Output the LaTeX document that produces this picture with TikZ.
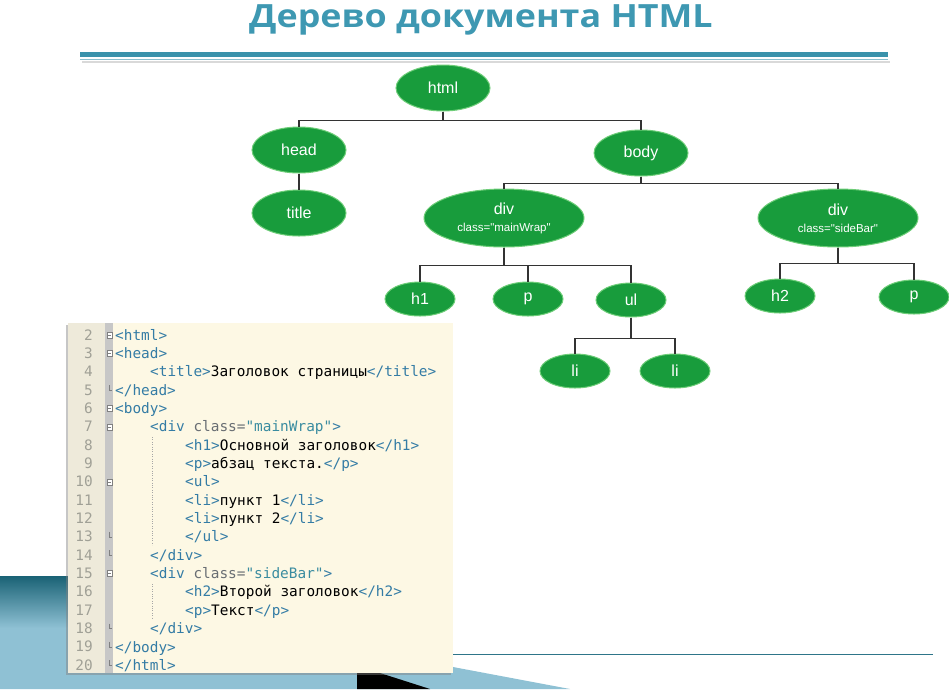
\documentclass[tikz,border=0pt]{standalone}
\usepackage{fontspec}
\setmainfont{Liberation Sans}[Ligatures=TeXOff]
\newfontfamily\codefont{DejaVu Sans Mono}[Ligatures=TeXOff]
\newfontfamily\titlefont{Open Sans}
\usetikzlibrary{shapes.geometric,shadows}
\definecolor{leafgreen}{RGB}{24,156,60}
\definecolor{leafrim}{RGB}{110,205,120}
\definecolor{rulec}{RGB}{58,146,171}
\definecolor{titlec}{RGB}{62,152,178}
\definecolor{paper}{RGB}{253,248,228}
\definecolor{gutter}{RGB}{238,234,218}
\definecolor{tagc}{RGB}{52,124,165}
\definecolor{attc}{RGB}{105,110,115}
\definecolor{valc}{RGB}{58,140,160}
\definecolor{numc}{RGB}{160,160,150}
\definecolor{deep}{RGB}{26,98,117}
\definecolor{sky}{RGB}{143,193,212}
\newcommand{\tg}[1]{\textcolor{tagc}{#1}}
\newcommand{\att}[1]{\textcolor{attc}{#1}}
\newcommand{\val}[1]{\textcolor{valc}{#1}}

\begin{document}
\begin{tikzpicture}[x=1pt, y=-1pt,
    leaf/.style={ellipse, fill=leafgreen, draw=leafrim, line width=1pt, inner sep=0pt,
      text=white, font=\fontsize{16}{16}\selectfont},
    big/.style={leaf, minimum width=94pt, minimum height=46pt},
    wide/.style={leaf, minimum width=160pt, minimum height=58pt, align=center},
    small/.style={leaf, minimum width=70pt, minimum height=34pt},
    link/.style={line width=1.3pt, black!80},
    codeline/.style={anchor=base west, inner sep=0pt, font=\codefont\fontsize{14.4}{14.4}\selectfont},
    lnum/.style={anchor=base east, inner sep=0pt, text=numc, font=\codefont\fontsize{14.4}{14.4}\selectfont}]
  \useasboundingbox (0,0) rectangle (949,689);

  % heading
  \node[anchor=base, inner sep=0pt, text=titlec, font=\titlefont\bfseries\fontsize{32}{32}\selectfont] (heading) at (481,27)
    {\scalebox{1.12}[1]{Дерево документа HTML}};
  \draw[black!15, line width=2pt] (82,62) -- (890,62);
  \draw[rulec, line width=5pt] (80,54) -- (888,54);
  \draw[rulec!60, line width=1.2pt] (80,59.5) -- (888,59.5);

  % corner
  \fill[sky] (0,576) -- (440,576) -- (453,667) -- (570,689) -- (0,689) -- cycle;
  \shade[top color=deep, bottom color=sky] (0,576) rectangle (440,628);
  \fill[black] (357,673) -- (380,673) -- (430,689) -- (357,689) -- cycle;
  \draw[rulec!80!black, line width=.8pt] (453,654) -- (933,654);

  % tree
  \node[big] (html) at (443,88) {html};
  \node[big] (head) at (299,150) {head};
  \node[big] (title) at (299,213) {title};
  \node[big] (body) at (641,153) {body};
  \node[wide] (main) at (504,218) {div\\[1pt]\fontsize{11.5}{13}\selectfont class="mainWrap"};
  \node[wide] (side) at (838,218) {div\\[1pt]\fontsize{11.5}{13}\selectfont class="sideBar"};
  \node[small] (h1) at (420,299) {h1};
  \node[small] (p1) at (528,299) {p};
  \node[small] (ul) at (631,300) {ul};
  \node[small] (li1) at (575,371) {li};
  \node[small] (li2) at (675,371) {li};
  \node[small] (h2) at (780,296) {h2};
  \node[small] (p2) at (914,297) {p};

  % lines
  \foreach \k in {head,body} \draw[link] (html.south) -- ++(0,9) -| (\k.north);
  \draw[link] (head) -- (title);
  \foreach \k in {main,side} \draw[link] (body.south) -- ++(0,7) -| (\k.north);
  \foreach \k in {h1,p1,ul} \draw[link] (main.south) -- ++(0,18) -| (\k.north);
  \foreach \k in {li1,li2} \draw[link] (ul.south) -- ++(0,21) -| (\k.north);
  \foreach \k in {h2,p2} \draw[link] (side.south) -- ++(0,16) -| (\k.north);

  % code box
  \fill[paper, drop shadow={shadow xshift=-2pt, shadow yshift=-2pt, opacity=.45}] (68,323) rectangle (453,673);
  \fill[gutter] (68,323) rectangle (105,673);
  \fill[black!22] (105,323) rectangle (113,673);
  \foreach \n [evaluate=\n as \y using 335+18.35*(\n-2)] in {2,3,6,7,10,15} {
    \draw[gray, fill=white, line width=.5pt] (107,\y-3) rectangle (112,\y+3);
    \draw[gray, line width=.5pt] (108,\y) -- (111,\y);
  }
  \foreach \n [evaluate=\n as \y using 335+18.35*(\n-2)] in {5,13,14,18,19,20}
    \draw[gray, line width=.5pt] (109.5,\y-5) -- (109.5,\y) -- (112,\y);
  \draw[black!35, dotted] (152,437) -- (152,545);
  \draw[black!35, dotted] (152,584) -- (152,619);
  \foreach \n [evaluate=\n as \y using 340+18.35*(\n-2)] in {2,...,20}
    \node[lnum] (n\n) at (93,\y) {\n};

  \node[codeline] (c2) at (115,340.0) {\tg{<html>}};
  \node[codeline] (c3) at (115,358.4) {\tg{<head>}};
  \node[codeline] (c4) at (150,376.7) {\tg{<title>}Заголовок страницы\tg{</title>}};
  \node[codeline] (c5) at (115,395.1) {\tg{</head>}};
  \node[codeline] (c6) at (115,413.4) {\tg{<body>}};
  \node[codeline] (c7) at (150,431.8) {\tg{<div} \att{class=}\val{"mainWrap"}\tg{>}};
  \node[codeline] (c8) at (185,450.1) {\tg{<h1>}Основной заголовок\tg{</h1>}};
  \node[codeline] (c9) at (185,468.5) {\tg{<p>}абзац текста.\tg{</p>}};
  \node[codeline] (c10) at (185,486.8) {\tg{<ul>}};
  \node[codeline] (c11) at (185,505.2) {\tg{<li>}пункт 1\tg{</li>}};
  \node[codeline] (c12) at (185,523.5) {\tg{<li>}пункт 2\tg{</li>}};
  \node[codeline] (c13) at (185,541.9) {\tg{</ul>}};
  \node[codeline] (c14) at (150,560.2) {\tg{</div>}};
  \node[codeline] (c15) at (150,578.6) {\tg{<div} \att{class=}\val{"sideBar"}\tg{>}};
  \node[codeline] (c16) at (185,596.9) {\tg{<h2>}Второй заголовок\tg{</h2>}};
  \node[codeline] (c17) at (185,615.3) {\tg{<p>}Текст\tg{</p>}};
  \node[codeline] (c18) at (150,633.6) {\tg{</div>}};
  \node[codeline] (c19) at (115,652.0) {\tg{</body>}};
  \node[codeline] (c20) at (115,670.3) {\tg{</html>}};
\end{tikzpicture}
\end{document}
